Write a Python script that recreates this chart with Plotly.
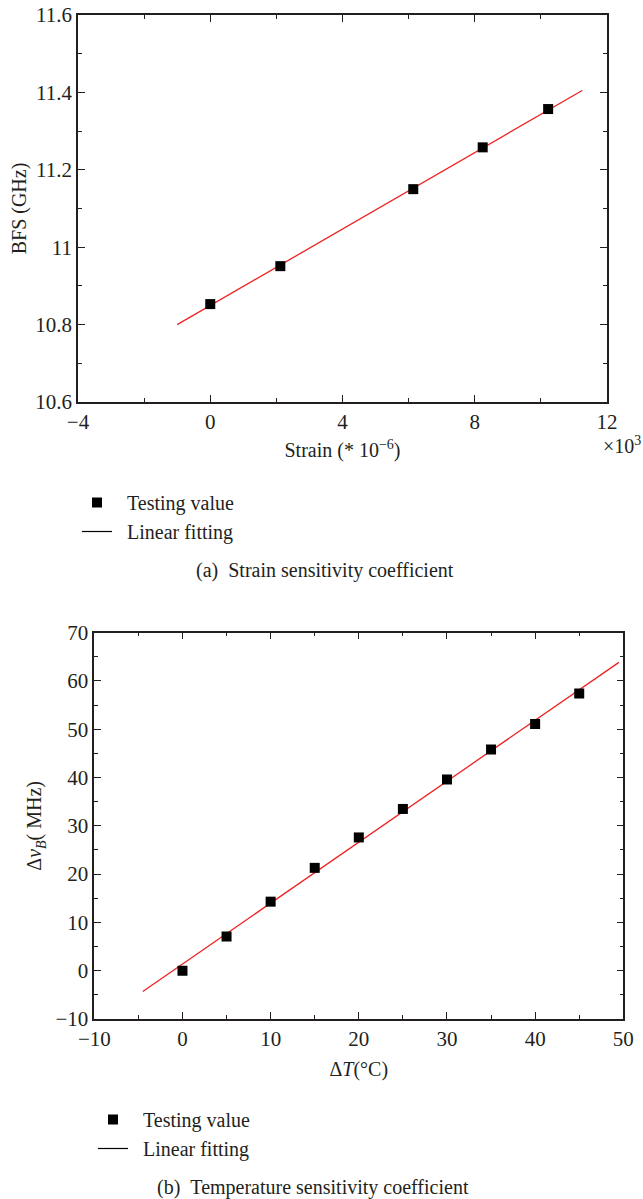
import plotly.graph_objects as go

# ---- data (a) strain ----
strain_x = [0.0, 2.12, 6.14, 8.24, 10.22]
strain_bfs = [10.853, 10.951, 11.150, 11.258, 11.357]
strain_fit_x = [-1.0, 11.25]
strain_fit_y = [10.800, 11.405]

# ---- data (b) temperature ----
temp_x = [0, 5, 10, 15, 20, 25, 30, 35, 40, 45]
temp_dv = [0.0, 7.1, 14.3, 21.3, 27.6, 33.5, 39.6, 45.8, 51.1, 57.4]
temp_fit_x = [-4.5, 49.5]
temp_fit_y = [-4.3, 63.85]

FONT = "Liberation Serif"
TXT = "#231f20"
W, H = 643, 1199
TICK_FS = 21
TITLE_FS = 20
LEG_FS = 20
CAP_FS = 20

fig = go.Figure()

def px_x(v):
    return v / W

def px_y(v):
    return 1 - v / H

# top plot traces
fig.add_trace(go.Scatter(x=strain_fit_x, y=strain_fit_y, mode="lines",
                         line=dict(color="#ee2222", width=1.3),
                         showlegend=False, xaxis="x", yaxis="y"))
fig.add_trace(go.Scatter(x=strain_x, y=strain_bfs, mode="markers",
                         marker=dict(symbol="square", size=10, color="black"),
                         name="\u00a0\u00a0Testing value", legend="legend",
                         xaxis="x", yaxis="y"))
fig.add_trace(go.Scatter(x=[None], y=[None], mode="lines",
                         line=dict(color="black", width=1.2),
                         name="\u00a0\u00a0Linear fitting", legend="legend",
                         xaxis="x", yaxis="y"))

# bottom plot traces
fig.add_trace(go.Scatter(x=temp_fit_x, y=temp_fit_y, mode="lines",
                         line=dict(color="#ee2222", width=1.3),
                         showlegend=False, xaxis="x2", yaxis="y2"))
fig.add_trace(go.Scatter(x=temp_x, y=temp_dv, mode="markers",
                         marker=dict(symbol="square", size=10, color="black"),
                         name="\u00a0\u00a0Testing value", legend="legend2",
                         xaxis="x2", yaxis="y2"))
fig.add_trace(go.Scatter(x=[None], y=[None], mode="lines",
                         line=dict(color="black", width=1.2),
                         name="\u00a0\u00a0Linear fitting", legend="legend2",
                         xaxis="x2", yaxis="y2"))

axis_common = dict(
    showgrid=False, zeroline=False, showline=True, linecolor="#231f20",
    linewidth=1.5, mirror="ticks", ticks="inside", ticklen=7, tickwidth=1.2,
    tickcolor="#231f20", tickfont=dict(family=FONT, size=TICK_FS, color=TXT),
    automargin=False,
)
minor_common = dict(ticks="inside", ticklen=4, tickwidth=1.2, tickcolor="#231f20")

fig.update_layout(
    width=W, height=H,
    margin=dict(l=0, r=0, t=0, b=0),
    paper_bgcolor="white", plot_bgcolor="white",
    font=dict(family=FONT, color=TXT, size=TITLE_FS),
    xaxis=dict(axis_common, domain=[px_x(78), px_x(607)], anchor="y",
               range=[-4, 12], tickvals=[-4, 0, 4, 8, 12],
               minor=dict(minor_common, dtick=2, tick0=0),
               title=dict(text="Strain (* 10<sup>\u22126</sup>)",
                          font=dict(family=FONT, size=TITLE_FS, color=TXT), standoff=10)),
    yaxis=dict(axis_common, domain=[px_y(402), px_y(15)], anchor="x",
               range=[10.6, 11.6], dtick=0.2, tick0=10.6,
               minor=dict(minor_common, dtick=0.1),
               title=dict(text="BFS (GHz)",
                          font=dict(family=FONT, size=TITLE_FS, color=TXT), standoff=3)),
    xaxis2=dict(axis_common, domain=[px_x(94.3), px_x(623.3)], anchor="y2",
                range=[-10, 50], dtick=10, tick0=0,
                minor=dict(minor_common, dtick=5),
                title=dict(text="\u0394<i>T</i>(\u00b0C)",
                           font=dict(family=FONT, size=TITLE_FS, color=TXT), standoff=12)),
    yaxis2=dict(axis_common, domain=[px_y(1019), px_y(632.7)], anchor="x2",
                range=[-10, 70], dtick=10, tick0=0,
                minor=dict(minor_common, dtick=5),
                title=dict(text="\u0394<i>\u03bd</i><sub><i>B</i></sub>( MHz)",
                           font=dict(family=FONT, size=TITLE_FS, color=TXT), standoff=8)),
    legend=dict(x=px_x(77), y=px_y(483), xanchor="left", yanchor="top",
                bgcolor="rgba(0,0,0,0)", font=dict(family=FONT, size=LEG_FS, color=TXT),
                tracegroupgap=0),
    legend2=dict(x=px_x(93), y=px_y(1100), xanchor="left", yanchor="top",
                 bgcolor="rgba(0,0,0,0)", font=dict(family=FONT, size=LEG_FS, color=TXT),
                 tracegroupgap=0),
    annotations=[
        dict(text="\u00d710<sup>3</sup>", xref="paper", yref="paper",
             x=1.0, y=px_y(445), xanchor="right", yanchor="middle",
             showarrow=False, font=dict(family=FONT, size=TITLE_FS, color=TXT)),
        dict(text="(a)\u00a0\u00a0Strain sensitivity coefficient", xref="paper", yref="paper",
             x=px_x(325), y=px_y(570), xanchor="center", yanchor="middle",
             showarrow=False, font=dict(family=FONT, size=CAP_FS, color=TXT)),
        dict(text="(b)\u00a0\u00a0Temperature sensitivity coefficient", xref="paper", yref="paper",
             x=px_x(313), y=px_y(1187), xanchor="center", yanchor="middle",
             showarrow=False, font=dict(family=FONT, size=CAP_FS, color=TXT)),
    ],
)

fig.write_html("out.html")
